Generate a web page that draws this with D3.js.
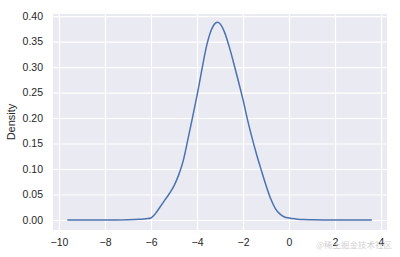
<!DOCTYPE html>
<html>
<head>
<meta charset="utf-8">
<script src="https://cdn.jsdelivr.net/npm/d3@7"></script>
<style>
  html, body { margin: 0; padding: 0; background: #fff; }
  svg { display: block; }
</style>
</head>
<body>
<svg id="chart" width="400" height="257"></svg>
<script>
// Density curve (KDE)
const xValues = [-9.64, -8.5, -7.5, -7.0, -6.5, -6.2, -6.0, -5.8, -5.6, -5.4, -5.2, -5.0, -4.8, -4.6, -4.4, -4.2, -4.0, -3.8, -3.6, -3.4, -3.2, -3.1, -3.0, -2.8, -2.6, -2.4, -2.2, -2.0, -1.8, -1.6, -1.4, -1.2, -1.0, -0.8, -0.6, -0.4, -0.2, 0.0, 0.3, 0.6, 1.0, 1.5, 2.5, 3.6];
const densityValues = [0.0, 0.0, 0.0002, 0.0006, 0.0015, 0.0025, 0.004, 0.013, 0.026, 0.039, 0.052, 0.067, 0.088, 0.116, 0.157, 0.200, 0.244, 0.292, 0.338, 0.370, 0.386, 0.388, 0.385, 0.368, 0.340, 0.307, 0.272, 0.236, 0.196, 0.160, 0.127, 0.097, 0.068, 0.042, 0.023, 0.012, 0.006, 0.004, 0.0022, 0.001, 0.0005, 0.0002, 0.0, 0.0];
const xTicks = [-10, -8, -6, -4, -2, 0, 2, 4];
const yTicks = [0.00, 0.05, 0.10, 0.15, 0.20, 0.25, 0.30, 0.35, 0.40];
const yLabel = "Density";
const watermark = "@稀土掘金技术社区";

const svg = d3.select("#chart");
const mLeft = 53, mRight = 387, mTop = 14, mBottom = 230;

const x = d3.scaleLinear().domain([-10.26, 4.26]).range([mLeft, mRight]);
const y = d3.scaleLinear().domain([-0.0196, 0.404]).range([mBottom, mTop]);

svg.append("rect")
  .attr("x", mLeft).attr("y", mTop)
  .attr("width", mRight - mLeft).attr("height", mBottom - mTop)
  .attr("fill", "#EAEAF2");

const gx = svg.append("g")
  .attr("transform", `translate(0,${mBottom})`)
  .call(d3.axisBottom(x).tickValues(xTicks).tickSize(-(mBottom - mTop)).tickPadding(9)
        .tickFormat(d => d3.format("d")(d).replace("-", "\u2212")));
const gy = svg.append("g")
  .attr("transform", `translate(${mLeft},0)`)
  .call(d3.axisLeft(y).tickValues(yTicks).tickSize(-(mRight - mLeft)).tickPadding(10)
        .tickFormat(d3.format(".2f")));

[gx, gy].forEach(g => {
  g.select(".domain").remove();
  g.selectAll(".tick line").attr("stroke", "#ffffff").attr("stroke-width", 1.2);
  g.selectAll(".tick text")
    .attr("fill", "#262626")
    .attr("font-family", "'Liberation Sans', Arial, sans-serif")
    .attr("font-size", "10.5px");
});
gx.selectAll(".tick text").attr("dy", "0.71em");

const data = xValues.map((v, i) => [v, densityValues[i]]);
svg.append("path")
  .datum(data)
  .attr("fill", "none")
  .attr("stroke", "#4C72B0")
  .attr("stroke-width", 1.5)
  .attr("d", d3.line().x(d => x(d[0])).y(d => y(d[1])).curve(d3.curveMonotoneX));

svg.append("text")
  .attr("transform", `translate(15,${(mTop + mBottom) / 2}) rotate(-90)`)
  .attr("text-anchor", "middle")
  .attr("fill", "#262626")
  .attr("font-family", "'Liberation Sans', Arial, sans-serif")
  .attr("font-size", "11px")
  .text(yLabel);

svg.append("text")
  .attr("x", 392).attr("y", 247.5)
  .attr("text-anchor", "end")
  .attr("fill", "#c4c4c4")
  .attr("fill-opacity", 0.8)
  .attr("font-family", "'Noto Sans CJK SC', sans-serif")
  .attr("font-size", "8.5px")
  .text(watermark);
</script>
</body>
</html>
